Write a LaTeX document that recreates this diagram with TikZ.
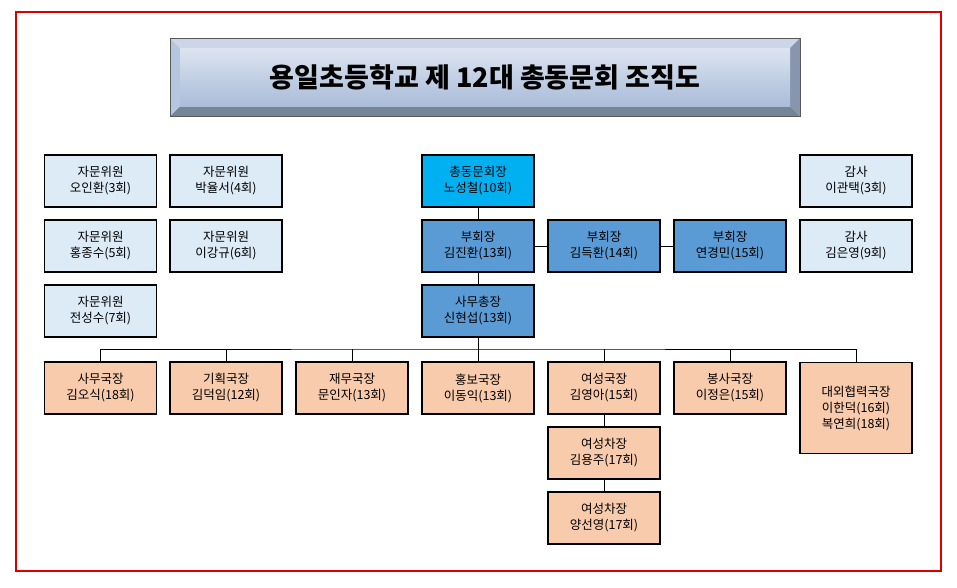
\documentclass[tikz,border=0pt]{standalone}
\usepackage{fontspec}
\setmainfont{Noto Sans CJK KR}
\begin{document}
\begin{tikzpicture}[x=1pt,y=-1pt,
 bx/.style={draw=black,line width=1.4pt,minimum width=112pt,minimum height=52pt,align=center,font=\fontsize{12.5}{16}\selectfont,inner sep=1pt},
 adv/.style={bx,fill=adv},
 pres/.style={bx,fill=pres},
 vice/.style={bx,fill=vice},
 dept/.style={bx,fill=dept},
 ln/.style={line width=1pt}]
\definecolor{adv}{HTML}{DDEBF7}
\definecolor{pres}{HTML}{00B0F0}
\definecolor{vice}{HTML}{5B9BD5}
\definecolor{dept}{HTML}{F8CBAD}
\definecolor{tt}{HTML}{A9BCD9}
\useasboundingbox (0,0) rectangle (957,587);
\draw[red!85!black,line width=1.3pt] (16,12) rectangle (941,571);
% title
\fill[tt!60!white] (170,38) -- (800,38) -- (790,48) -- (180,48) -- cycle;
\fill[tt!70!black] (170,116) -- (800,116) -- (790,106) -- (180,106) -- cycle;
\fill[tt!85!white] (170,38) -- (180,48) -- (180,106) -- (170,116) -- cycle;
\fill[tt!80!black] (800,38) -- (790,48) -- (790,106) -- (800,116) -- cycle;
\shade[top color=tt!40!white,bottom color=tt] (180,48) rectangle (790,106);
\draw[gray!70!black] (170,38) rectangle (800,116);
\node (title) at (485,77) {\fontsize{27}{30}\selectfont\bfseries 용일초등학교 제 12대 총동문회 조직도};
% advisors
\node[adv] (a1) at (100.5,181) {자문위원\\오인환(3회)};
\node[adv] (a2) at (226,181) {자문위원\\박율서(4회)};
\node[adv] (a3) at (100.5,246) {자문위원\\홍종수(5회)};
\node[adv] (a4) at (226,246) {자문위원\\이강규(6회)};
\node[adv] (a5) at (100.5,311) {자문위원\\전성수(7회)};
\node[adv] (g1) at (856,181) {감사\\이관택(3회)};
\node[adv] (g2) at (856,246) {감사\\김은영(9회)};
% leadership
\node[pres] (p) at (478,181) {총동문회장\\노성철(10회)};
\node[vice] (v1) at (478,246) {부회장\\김진환(13회)};
\node[vice] (v2) at (604,246) {부회장\\김득환(14회)};
\node[vice] (v3) at (730,246) {부회장\\연경민(15회)};
\node[vice] (s) at (478,311) {사무총장\\신현섭(13회)};
% departments
\node[dept] (d1) at (100.5,388) {사무국장\\김오식(18회)};
\node[dept] (d2) at (226,388) {기획국장\\김덕임(12회)};
\node[dept] (d3) at (352,388) {재무국장\\문인자(13회)};
\node[dept] (d4) at (478,388) {홍보국장\\이동익(13회)};
\node[dept] (d5) at (604,388) {여성국장\\김영아(15회)};
\node[dept] (d6) at (730,388) {봉사국장\\이정은(15회)};
\node[dept,minimum height=91pt,anchor=north] (d7) at (856,362) {대외협력국장\\이한덕(16회)\\복연희(18회)};
\node[dept] (e1) at (604,453) {여성차장\\김용주(17회)};
\node[dept] (e2) at (604,518) {여성차장\\양선영(17회)};
% connectors
\draw[ln] (p) -- (v1);
\draw[ln] (v1) -- (s);
\draw[ln] (v1) -- (v2);
\draw[ln] (v2) -- (v3);
\draw[ln] (d5) -- (e1);
\draw[ln] (e1) -- (e2);
\coordinate (bus) at (478,349);
\draw[ln] (s.south) -- (bus);
\draw[ln] (d1.north) |- (bus) -| (d7.north);
\foreach \n in {d2,d3,d4,d5,d6} \draw[ln] (\n.north) -- (\n.north |- bus);
\end{tikzpicture}
\end{document}
